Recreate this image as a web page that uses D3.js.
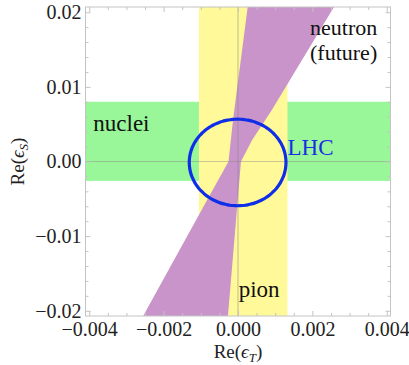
<!DOCTYPE html>
<html><head><meta charset="utf-8">
<script src="https://cdn.jsdelivr.net/npm/d3@7"></script>
<style>
html,body{margin:0;padding:0;background:#fff;}
svg{display:block;}
text{font-family:"Liberation Serif","Times New Roman",serif;}
</style></head>
<body>
<svg id="chart" width="409" height="365"></svg>
<script>
// ---- data ----
const xDomain = [-0.0041, 0.0041];
const yDomain = [-0.0207, 0.0207];
const xTicks = [-0.004, -0.002, 0.000, 0.002, 0.004];
const yTicks = [-0.02, -0.01, 0.00, 0.01, 0.02];
const xMinorStep = 0.0005;
const yMinorStep = 0.002;
// nuclei band (Re eps_S range, all eps_T)
const nucleiBand = [-0.0026, 0.0080];
// pion band (Re eps_T range, all eps_S)
const pionBand = [-0.00105, 0.00133];
// neutron (future) region polygon [eps_T, eps_S]
const neutronRegion = [
  [0.00026, 0.0207], [0.00258, 0.0207], [0.00091, 0.00691], [0.00038, 0.00289],
  [0.00008, 0.0000], [-0.00027, -0.0207], [-0.00255, -0.0207], [-0.00083, -0.00517],
  [-0.000255, 0.0000], [-0.000134, 0.00557]
];
// LHC ellipse: center and semi-axes [eps_T, eps_S]
const lhcCenter = [-0.00001, -0.00013];
const lhcRadii = [0.0013, 0.0058];
const labels = [
  {text: "nuclei", x: -0.00389, y: 0.00403, anchor: "start", color: "#111", size: 23},
  {text: "neutron", x: 0.00284, y: 0.0170, anchor: "middle", color: "#111", size: 22},
  {text: "(future)", x: 0.00284, y: 0.0136, anchor: "middle", color: "#111", size: 22},
  {text: "LHC", x: 0.00133, y: 0.00087, anchor: "start", color: "#1a2ee6", size: 23},
  {text: "pion", x: 0.00002, y: -0.01815, anchor: "start", color: "#111", size: 23}
];

// ---- chart ----
const svg = d3.select("#chart");
const x = d3.scaleLinear().domain(xDomain).range([85.5, 390.5]);
const y = d3.scaleLinear().domain(yDomain).range([316, 7]);

const g = svg.append("g");
svg.append("clipPath").attr("id","clip").append("rect")
  .attr("x", x(xDomain[0])).attr("y", y(yDomain[1]))
  .attr("width", x(xDomain[1]) - x(xDomain[0])).attr("height", y(yDomain[0]) - y(yDomain[1]));
const plot = g.append("g").attr("clip-path","url(#clip)");

// nuclei band
plot.append("rect")
  .attr("x", x(xDomain[0])).attr("width", x(xDomain[1]) - x(xDomain[0]))
  .attr("y", y(nucleiBand[1])).attr("height", y(nucleiBand[0]) - y(nucleiBand[1]))
  .attr("fill", "#99f799");
// pion band
plot.append("rect")
  .attr("x", x(pionBand[0])).attr("width", x(pionBand[1]) - x(pionBand[0]))
  .attr("y", y(yDomain[1])).attr("height", y(yDomain[0]) - y(yDomain[1]))
  .attr("fill", "#fff999");
// neutron region
plot.append("path")
  .datum(neutronRegion)
  .attr("d", d3.line().x(d => x(d[0])).y(d => y(d[1])).curve(d3.curveLinearClosed))
  .attr("fill", "#c994c9");

// axes lines through origin
plot.append("line").attr("x1", x(xDomain[0])).attr("x2", x(xDomain[1]))
  .attr("y1", y(0)).attr("y2", y(0)).attr("stroke", "#888").attr("stroke-opacity", 0.45).attr("stroke-width", 1.2);
plot.append("line").attr("y1", y(yDomain[0])).attr("y2", y(yDomain[1]))
  .attr("x1", x(0)).attr("x2", x(0)).attr("stroke", "#888").attr("stroke-opacity", 0.45).attr("stroke-width", 1.2);

// LHC ellipse
const ellPts = d3.range(0, 360, 3).map(a => {
  const t = a * Math.PI / 180;
  return [lhcCenter[0] + lhcRadii[0] * Math.cos(t), lhcCenter[1] + lhcRadii[1] * Math.sin(t)];
});
plot.append("path").datum(ellPts)
  .attr("d", d3.line().x(d => x(d[0])).y(d => y(d[1])).curve(d3.curveCardinalClosed))
  .attr("fill", "none").attr("stroke", "#0f2ee8").attr("stroke-width", 3.2);

// frame
const frameColor = "#c4c4c4";
g.append("rect").attr("x", x(xDomain[0])).attr("y", y(yDomain[1]))
  .attr("width", x(xDomain[1]) - x(xDomain[0])).attr("height", y(yDomain[0]) - y(yDomain[1]))
  .attr("fill", "none").attr("stroke", frameColor).attr("stroke-width", 1);

// minor ticks
const xMinor = d3.range(-0.004, 0.00401, xMinorStep).filter(v => !xTicks.some(t => Math.abs(t - v) < 1e-9));
const yMinor = d3.range(-0.02, 0.02001, yMinorStep).filter(v => !yTicks.some(t => Math.abs(t - v) < 1e-9));

function styleAxis(sel) {
  sel.select(".domain").remove();
  sel.selectAll(".tick line").attr("stroke", frameColor);
  sel.selectAll(".tick text").attr("fill", "#222").style("font-size", "20px")
    .style("font-family", '"Liberation Serif","Times New Roman",serif');
}
// bottom
g.append("g").attr("transform", `translate(0,${y(yDomain[0])})`)
  .call(d3.axisBottom(x).tickValues(xTicks).tickSize(-5).tickPadding(6).tickFormat(d3.format(".3f")))
  .call(styleAxis);
g.append("g").attr("transform", `translate(0,${y(yDomain[0])})`)
  .call(d3.axisBottom(x).tickValues(xMinor).tickSize(-3).tickFormat(""))
  .call(styleAxis);
// top
g.append("g").attr("transform", `translate(0,${y(yDomain[1])})`)
  .call(d3.axisTop(x).tickValues(xTicks).tickSize(-5).tickFormat(""))
  .call(styleAxis);
g.append("g").attr("transform", `translate(0,${y(yDomain[1])})`)
  .call(d3.axisTop(x).tickValues(xMinor).tickSize(-3).tickFormat(""))
  .call(styleAxis);
// left
g.append("g").attr("transform", `translate(${x(xDomain[0])},0)`)
  .call(d3.axisLeft(y).tickValues(yTicks).tickSize(-5).tickPadding(4).tickFormat(d3.format(".2f")))
  .call(styleAxis);
g.append("g").attr("transform", `translate(${x(xDomain[0])},0)`)
  .call(d3.axisLeft(y).tickValues(yMinor).tickSize(-3).tickFormat(""))
  .call(styleAxis);
// right
g.append("g").attr("transform", `translate(${x(xDomain[1])},0)`)
  .call(d3.axisRight(y).tickValues(yTicks).tickSize(-5).tickFormat(""))
  .call(styleAxis);
g.append("g").attr("transform", `translate(${x(xDomain[1])},0)`)
  .call(d3.axisRight(y).tickValues(yMinor).tickSize(-3).tickFormat(""))
  .call(styleAxis);

// region labels
g.selectAll("text.lbl").data(labels).join("text").attr("class","lbl")
  .attr("x", d => x(d.x)).attr("y", d => y(d.y))
  .attr("text-anchor", d => d.anchor).attr("fill", d => d.color)
  .style("font-size", d => d.size + "px").text(d => d.text);

// axis titles
const xt = g.append("text").attr("x", x(0)).attr("y", 358).attr("text-anchor", "middle")
  .attr("fill", "#222").style("font-size", "19px");
xt.append("tspan").text("Re(");
xt.append("tspan").style("font-style","italic").text("\u03F5");
xt.append("tspan").style("font-style","italic").style("font-size","13px").attr("dy", 4).text("T");
xt.append("tspan").attr("dy", -4).text(")");

const yt = g.append("text").attr("transform", `translate(24,${y(0)}) rotate(-90)`).attr("text-anchor", "middle")
  .attr("fill", "#222").style("font-size", "19px");
yt.append("tspan").text("Re(");
yt.append("tspan").style("font-style","italic").text("\u03F5");
yt.append("tspan").style("font-style","italic").style("font-size","13px").attr("dy", 4).text("S");
yt.append("tspan").attr("dy", -4).text(")");
</script>
</body></html>
